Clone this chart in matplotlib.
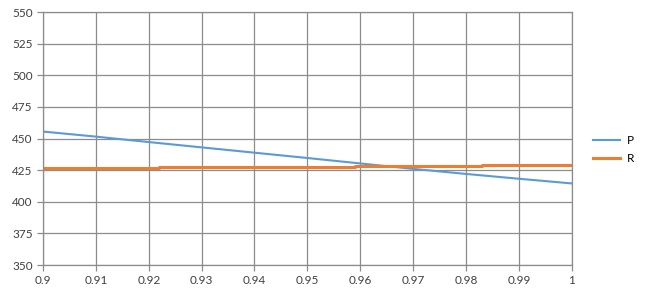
import matplotlib.pyplot as plt

# datos
x_p = [0.90, 0.91, 0.92, 0.93, 0.94, 0.95, 0.96, 0.97, 0.98, 0.99, 1.00]
p = [455.5, 451.5, 447.2, 443.0, 438.8, 434.6, 430.3, 426.0, 422.0, 418.2, 414.5]

x_r = [0.900, 0.922, 0.922, 0.959, 0.959, 0.983, 0.983, 1.000]
r = [426.5, 426.5, 427.5, 427.5, 428.0, 428.0, 429.0, 429.0]

x_ticks = [0.9, 0.91, 0.92, 0.93, 0.94, 0.95, 0.96, 0.97, 0.98, 0.99, 1]
x_labels = ['0.9', '0.91', '0.92', '0.93', '0.94', '0.95', '0.96', '0.97', '0.98', '0.99', '1']
y_ticks = [350, 375, 400, 425, 450, 475, 500, 525, 550]

plt.rcParams['font.family'] = ['Lato', 'DejaVu Sans']

fig = plt.figure(figsize=(6.46, 2.94), dpi=100)
ax = fig.add_axes([0.0666, 0.0986, 0.8184, 0.8605])

ax.plot(x_p, p, color='#5b9bd5', linewidth=1.5, label='P')
ax.plot(x_r, r, color='#ed7d31', linewidth=2.2, label='R')

ax.set_xlim(0.9, 1.0)
ax.set_ylim(350, 550)
ax.set_xticks(x_ticks)
ax.set_xticklabels(x_labels)
ax.set_yticks(y_ticks)
ax.grid(True, color='#8c8c8c', linewidth=0.9)
ax.set_axisbelow(True)
for s in ax.spines.values():
    s.set_color('#8c8c8c')
    s.set_linewidth(0.9)
ax.tick_params(axis='both', colors='#8c8c8c', labelcolor='#404040', labelsize=8.5, length=4, width=0.9)

ax.legend(loc='center left', bbox_to_anchor=(1.02, 0.455), frameon=False, fontsize=8.5,
          handlelength=2.3, handletextpad=0.6, labelspacing=0.6)

fig.savefig('out.png', dpi=100)
